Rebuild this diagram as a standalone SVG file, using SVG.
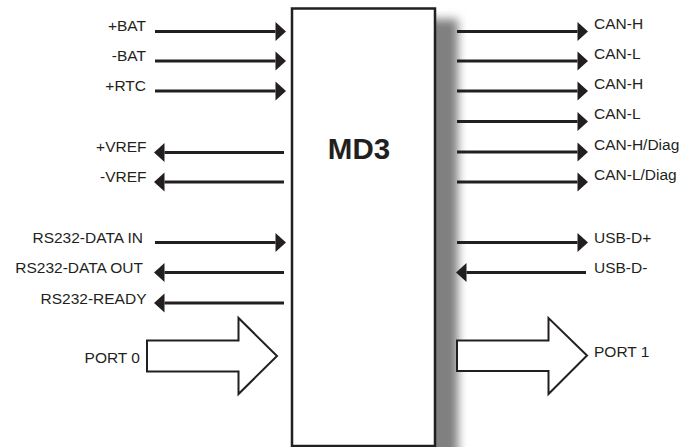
<svg xmlns="http://www.w3.org/2000/svg" width="681" height="447" viewBox="0 0 681 447">
<style>
.lbl{font-family:"Liberation Sans",Arial,sans-serif;font-size:15.5px;fill:#231f20}
.end{text-anchor:end}
.ln{stroke:#231f20;stroke-width:3;fill:none}
.big{fill:#fff;stroke:#231f20;stroke-width:2;stroke-linejoin:miter}
</style>
<defs>
<marker id="ah" markerUnits="userSpaceOnUse" markerWidth="11" markerHeight="20" refX="0" refY="9.5" orient="auto" overflow="visible">
<path d="M0,0 L10.5,9.5 L0,19 Z" fill="#231f20"/>
</marker>
<filter id="sh" x="-20%" y="-10%" width="140%" height="130%">
<feGaussianBlur stdDeviation="5"/>
</filter>
</defs>
<rect width="681" height="447" fill="#fff"/>
<g id="MD3">
<rect x="312" y="19" width="146" height="450" fill="#808080" filter="url(#sh)"/>
<rect x="292" y="8.5" width="143" height="437.5" fill="#fff" stroke="#231f20" stroke-width="2.5"/>
<text x="359" y="159" style="font-family:'Liberation Sans',Arial,sans-serif;font-size:29.5px;font-weight:bold;fill:#231f20" text-anchor="middle">MD3</text>
</g>
<g id="connectors">
<line class="ln" x1="155" y1="31.5" x2="275.5" y2="31.5" marker-end="url(#ah)"/>
<line class="ln" x1="155" y1="61" x2="275.5" y2="61" marker-end="url(#ah)"/>
<line class="ln" x1="155" y1="91" x2="275.5" y2="91" marker-end="url(#ah)"/>
<line class="ln" x1="284" y1="152.5" x2="164.5" y2="152.5" marker-end="url(#ah)"/>
<line class="ln" x1="284" y1="182" x2="164.5" y2="182" marker-end="url(#ah)"/>
<line class="ln" x1="155" y1="242.5" x2="275.5" y2="242.5" marker-end="url(#ah)"/>
<line class="ln" x1="284" y1="272.5" x2="164.5" y2="272.5" marker-end="url(#ah)"/>
<line class="ln" x1="284" y1="303" x2="164.5" y2="303" marker-end="url(#ah)"/>
<line class="ln" x1="457" y1="31.5" x2="577.5" y2="31.5" marker-end="url(#ah)"/>
<line class="ln" x1="457" y1="61" x2="577.5" y2="61" marker-end="url(#ah)"/>
<line class="ln" x1="457" y1="91" x2="577.5" y2="91" marker-end="url(#ah)"/>
<line class="ln" x1="457" y1="121.5" x2="577.5" y2="121.5" marker-end="url(#ah)"/>
<line class="ln" x1="457" y1="152" x2="577.5" y2="152" marker-end="url(#ah)"/>
<line class="ln" x1="457" y1="182" x2="577.5" y2="182" marker-end="url(#ah)"/>
<line class="ln" x1="457" y1="242.5" x2="577.5" y2="242.5" marker-end="url(#ah)"/>
<line class="ln" x1="586" y1="272.5" x2="466.5" y2="272.5" marker-end="url(#ah)"/>
<path class="big" d="M147,340.5 L238.5,340.5 L238.5,318 L277,356 L238.5,394 L238.5,371.5 L147,371.5 Z"/>
<path class="big" d="M457,340.5 L548.5,340.5 L548.5,318 L587,355.5 L548.5,394 L548.5,371 L457,371 Z"/>
</g>
<g id="n-bat-pos"><text class="lbl end" x="146" y="31">+BAT</text></g>
<g id="n-bat-neg"><text class="lbl end" x="146" y="61">-BAT</text></g>
<g id="n-rtc"><text class="lbl end" x="146" y="90.5">+RTC</text></g>
<g id="n-vref-pos"><text class="lbl end" x="146.5" y="152">+VREF</text></g>
<g id="n-vref-neg"><text class="lbl end" x="146.5" y="181.5">-VREF</text></g>
<g id="n-rs-in"><text class="lbl end" x="143" y="243">RS232-DATA IN</text></g>
<g id="n-rs-out"><text class="lbl end" x="143" y="272.5">RS232-DATA OUT</text></g>
<g id="n-rs-ready"><text class="lbl end" x="146.5" y="304">RS232-READY</text></g>
<g id="n-port0"><text class="lbl end" x="140" y="363">PORT 0</text></g>
<g id="n-canh1"><text class="lbl" x="594" y="29.3">CAN-H</text></g>
<g id="n-canl1"><text class="lbl" x="594" y="59.3">CAN-L</text></g>
<g id="n-canh2"><text class="lbl" x="594" y="89.3">CAN-H</text></g>
<g id="n-canl2"><text class="lbl" x="594" y="119.3">CAN-L</text></g>
<g id="n-canh-diag"><text class="lbl" x="594" y="150">CAN-H/Diag</text></g>
<g id="n-canl-diag"><text class="lbl" x="594" y="180">CAN-L/Diag</text></g>
<g id="n-usb-pos"><text class="lbl" x="594" y="242.5">USB-D+</text></g>
<g id="n-usb-neg"><text class="lbl" x="594" y="272.5">USB-D-</text></g>
<g id="n-port1"><text class="lbl" x="594" y="356.5">PORT 1</text></g>
</svg>
